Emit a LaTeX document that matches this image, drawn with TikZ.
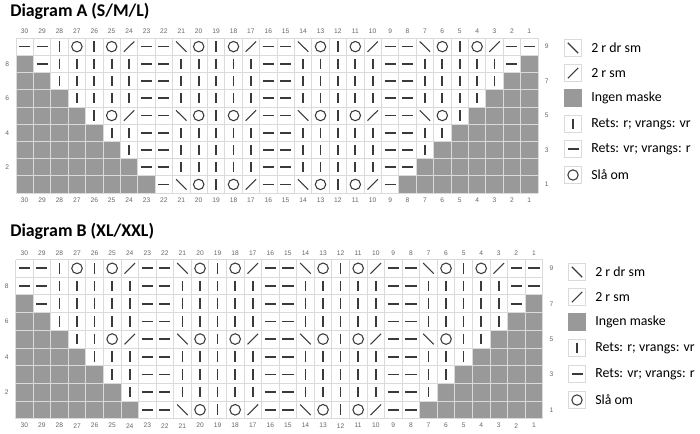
\documentclass[tikz,border=0pt]{standalone}
\usepackage{fontspec}
\setmainfont{Carlito}
\newfontfamily\numfont{Liberation Sans}

\definecolor{gridgray}{HTML}{DADADA}
\definecolor{nomask}{HTML}{999999}
\definecolor{inkgray}{HTML}{3A3A3A}

\tikzset{
  stitch/.style={draw=inkgray, line width=0.8pt},
  thickstitch/.style={draw=inkgray, line width=1.3pt},
  gridline/.style={draw=gridgray, line width=0.6pt},
  legendbox/.style={draw=gridgray, line width=0.6pt},
  colnum/.style={inner sep=0pt, font=\numfont\fontsize{5}{6}\selectfont, text=black!60},
  legendtext/.style={anchor=west, inner sep=0pt, font=\fontsize{10.4}{12}\selectfont},
  charttitle/.style={anchor=west, inner sep=0pt, font=\bfseries\fontsize{13.4}{15}\selectfont}
}

% stitch symbols, drawn round the centre of one cell
\newcommand\symd{\draw[thickstitch] (-0.32,0) -- (0.32,0);}
\newcommand\symb{\draw[thickstitch] (0,-0.3) -- (0,0.3);}
\newcommand\symo{\draw[stitch] (0,0) circle (0.3);}
\newcommand\syml{\draw[stitch] (-0.3,-0.3) -- (0.3,0.3);}
\newcommand\symr{\draw[stitch] (-0.3,0.3) -- (0.3,-0.3);}
\newcommand\symg{\fill[nomask] (-0.5,-0.5) rectangle (0.5,0.5);}

% rows, columns 30 -> 1
\def\rowlace{d,d,b,o,b,o,r,d,d,l,o,b,o,r,d,d,l,o,b,o,r,d,d,l,o,b,o,r,d,d}
\def\rowlaceb{d,d,b,b,b,o,r,d,d,l,o,b,o,r,d,d,l,o,b,o,r,d,d,l,o,b,b,b,d,d}
\def\rowplain{d,d,b,b,b,b,b,d,d,b,b,b,b,b,d,d,b,b,b,b,b,d,d,b,b,b,b,b,d,d}

\newcommand\knitchart[2]{%
  \foreach \r in {9,...,1}{
    \pgfmathtruncatemacro\g{max(0,#1-\r)}
    \ifnum\r=9 \let\rowlist\rowlace
    \else\ifnum\r=5 \let\rowlist\rowlaceb
    \else\ifnum\r=1 \let\rowlist\rowlaceb
    \else \let\rowlist\rowplain\fi\fi\fi
    \foreach \s [count=\i] in \rowlist {
      \pgfmathtruncatemacro\isgrey{(\i<=\g) || (\i>30-\g)}
      \begin{scope}[shift={({\i-0.5},{9.5-\r})}]
        \ifnum\isgrey=1 \symg \else \csname sym\s\endcsname \fi
      \end{scope}
    }
  }
  \foreach \c in {0,...,30} \draw[gridline] (\c,0) -- (\c,9);
  \foreach \r in {0,...,9} \draw[gridline] (0,\r) -- (30,\r);
  \foreach \c in {1,...,30}{
    \pgfmathtruncatemacro\n{31-\c}
    \node[colnum] (#2top\n) at ({\c-0.5},-0.38) {\n};
    \node[colnum] (#2bot\n) at ({\c-0.5},9.4) {\n};
  }
  \foreach \r in {1,...,9}{
    \ifodd\r \node[colnum] (#2row\r) at (30.5,{9.5-\r}) {\r};
    \else \node[colnum] (#2row\r) at (-0.5,{9.5-\r}) {\r};\fi
  }
}

\newcommand\legenditem[5]{%
  \begin{scope}[shift={(#1,#2)}, x=12.9pt, y=-12.9pt]
    \draw[legendbox] (-0.5,-0.5) rectangle (0.5,0.5);
    \csname sym#3\endcsname
  \end{scope}
  \node[legendtext] (#5) at ({#1+18},#2) {#4};
}

\begin{document}
\begin{tikzpicture}[x=0.75pt, y=-0.75pt]
\useasboundingbox (0,0) rectangle (700,433);

% Diagram A
\node[charttitle] (titleA) at (10,11) {Diagram A (S/M/L)};
\begin{scope}[shift={(16,38)}, x=13.05pt, y=-12.92pt]
  \knitchart{9}{a}
\end{scope}
\legenditem{573}{48}{l}{2 r dr sm}{alegA}
\legenditem{573}{73}{r}{2 r sm}{alegB}
\legenditem{573}{98}{g}{Ingen maske}{alegC}
\legenditem{573}{124}{b}{Rets: r; vrangs: vr}{alegD}
\legenditem{573}{149}{d}{Rets: vr; vrangs: r}{alegE}
\legenditem{573}{175}{o}{Slå om}{alegF}

% Diagram B
\node[charttitle] (titleB) at (10,231) {Diagram B (XL/XXL)};
\begin{scope}[shift={(15.5,259.5)}, x=13.18pt, y=-13.26pt]
  \knitchart{8}{b}
\end{scope}
\legenditem{577}{272}{l}{2 r dr sm}{blegA}
\legenditem{577}{297}{r}{2 r sm}{blegB}
\legenditem{577}{322}{g}{Ingen maske}{blegC}
\legenditem{577}{348}{b}{Rets: r; vrangs: vr}{blegD}
\legenditem{577}{374}{d}{Rets: vr; vrangs: r}{blegE}
\legenditem{577}{400}{o}{Slå om}{blegF}
\end{tikzpicture}
\end{document}
